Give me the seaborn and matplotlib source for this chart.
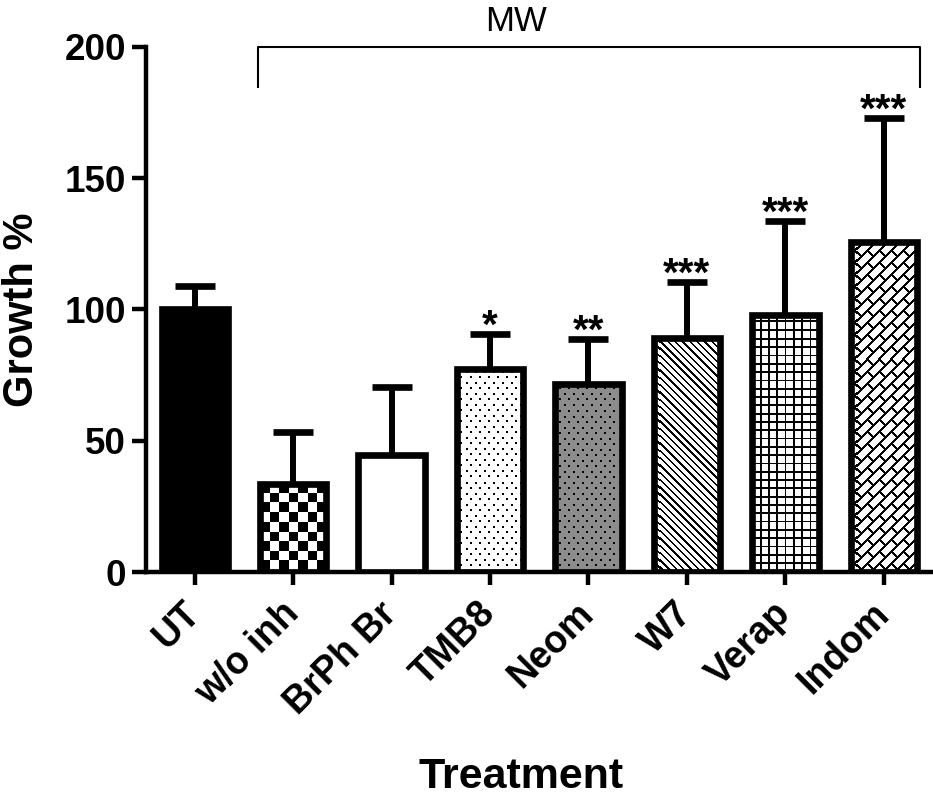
import numpy as np
import pandas as pd
import matplotlib
matplotlib.use("Agg")
import matplotlib.pyplot as plt
import matplotlib.transforms as mtrans
import seaborn as sns

# ---------------- data ----------------
treatments = ["UT", "w/o inh", "BrPh Br", "TMB8", "Neom", "W7", "Verap", "Indom"]
growth = [100.0, 33.6, 44.5, 77.3, 71.4, 89.0, 97.7, 125.8]
error = [9.0, 19.7, 26.0, 13.3, 17.2, 21.5, 35.9, 47.1]
stars = ["", "", "", "*", "**", "***", "***", "***"]
patterns = ["solid", "checker", "plain", "dots", "graydots", "diag", "grid", "brick"]
yticks = [0, 50, 100, 150, 200]
bracket_label = "MW"
xlabel = "Treatment"
ylabel = "Growth %"

# ---------------- style ----------------
sns.set_style("ticks")
plt.rcParams["font.family"] = ["Liberation Sans", "DejaVu Sans"]
plt.rcParams["font.weight"] = "bold"
for key in ("text.color", "axes.labelcolor", "xtick.color", "ytick.color",
            "axes.edgecolor", "xtick.labelcolor", "ytick.labelcolor"):
    plt.rcParams[key] = "black"

W_PX, H_PX = 933, 797
fig = plt.figure(figsize=(W_PX / 100, H_PX / 100), dpi=100)
ax_l, ax_b, ax_w, ax_h = 145.5, 225.0, 787.5, 525.3
ax = fig.add_axes([ax_l / W_PX, ax_b / H_PX, ax_w / W_PX, ax_h / H_PX])

df = pd.DataFrame({"Treatment": treatments, "Growth": growth})
palette = ["black"] + ["white"] * (len(treatments) - 1)
sns.barplot(data=df, x="Treatment", y="Growth", hue="Treatment", palette=palette,
            legend=False, width=0.674, errorbar=None, saturation=1,
            edgecolor="black", linewidth=4.8, ax=ax)

bars = sorted(ax.patches, key=lambda p: p.get_x())
for b in bars:
    b.set_zorder(3)

XLIM = (-0.5, len(treatments) - 0.5)
YLIM = (0, 200)

# ---------------- textures (pixel patterns) ----------------
H, W = int(round(ax_h)), int(round(ax_w))
I, J = np.mgrid[0:H, 0:W].astype(float)


def texture(kind):
    img = np.ones((H, W, 3))
    if kind == "checker":
        m = ((I // 9.5 + J // 9.5) % 2) == 0
        img[m] = 0
    elif kind in ("dots", "graydots"):
        if kind == "graydots":
            img[:] = 0.55
        r = np.floor(I / 5.5)
        m = ((I - r * 5.5) < 2) & (((J + (r % 2) * 4.5) % 9) < 2)
        img[m] = 0
    elif kind == "diag":
        m = ((J - I) % 7.3) < 2.4
        img[m] = 0
    elif kind == "grid":
        m = ((I % 8.3) < 1.8) | ((J % 8.3) < 1.8)
        img[m] = 0
    elif kind == "brick":
        a = I + J
        strip = np.floor(a / 12)
        b = J - I
        m = ((a % 12) < 2.8) | (((b + (strip % 2) * 12) % 24) < 2.8)
        img[m] = 0
    return img


for b, kind in zip(bars, patterns):
    if kind in ("solid", "plain"):
        continue
    b.set_facecolor("none")
    im = ax.imshow(texture(kind), extent=(XLIM[0], XLIM[1], YLIM[0], YLIM[1]),
                   origin="upper", interpolation="nearest", aspect="auto", zorder=2)
    im.set_clip_path(b)

# ---------------- error bars (upper only) ----------------
xpos = np.arange(len(treatments))
eb = ax.errorbar(xpos, growth, yerr=[np.zeros(len(error)), error], fmt="none",
                 ecolor="black", elinewidth=4.3, capsize=14.4, capthick=4.8, zorder=1.5)
eb[1][0].set_visible(False)

# significance stars
for i, s in enumerate(stars):
    if s:
        ax.text(xpos[i], growth[i] + error[i] - 1.5, s, ha="center", va="baseline",
                fontsize=29, fontweight="bold", zorder=4)

# bracket
bx0, bx1 = 1 - 0.357, len(treatments) - 1 + 0.37
ax.plot([bx0, bx0, bx1, bx1], [184.2, 200, 200, 184.2], color="black", lw=1.5,
        clip_on=False, zorder=4, solid_capstyle="butt")
ax.text(3.26, 206.0, bracket_label, ha="center", va="baseline", fontsize=25,
        fontweight="normal", clip_on=False)

# ---------------- axes ----------------
ax.set_xlim(*XLIM)
ax.set_ylim(*YLIM)
ax.set_yticks(yticks)
ax.set_yticklabels([str(v) for v in yticks], fontsize=26.5, fontweight="bold")
ax.set_xticks(xpos)
ax.set_xticklabels(treatments, rotation=45, ha="right", va="center",
                   rotation_mode="anchor", fontsize=27, fontweight="bold")
offset = mtrans.ScaledTranslation(12 / 100, 0, fig.dpi_scale_trans)
for lab in ax.get_xticklabels():
    lab.set_transform(lab.get_transform() + offset)

sns.despine(ax=ax)
for sp in ("left", "bottom"):
    ax.spines[sp].set_linewidth(3.2)
    ax.spines[sp].set_color("black")
ax.tick_params(axis="y", width=3.2, length=10, pad=4, colors="black")
ax.tick_params(axis="x", width=3.2, length=9, pad=17, colors="black")

ax.set_ylabel(ylabel, fontsize=30, fontweight="bold")
ax.yaxis.label.set_va("center")
ax.yaxis.set_label_coords((22 - ax_l) / ax_w, (572 - 310) / ax_h)
ax.set_xlabel(xlabel, fontsize=31, fontweight="bold")
ax.xaxis.label.set_va("baseline")
ax.xaxis.set_label_coords((521 - ax_l) / ax_w, (572 - 788) / ax_h)

fig.savefig("out.png", dpi=100)
